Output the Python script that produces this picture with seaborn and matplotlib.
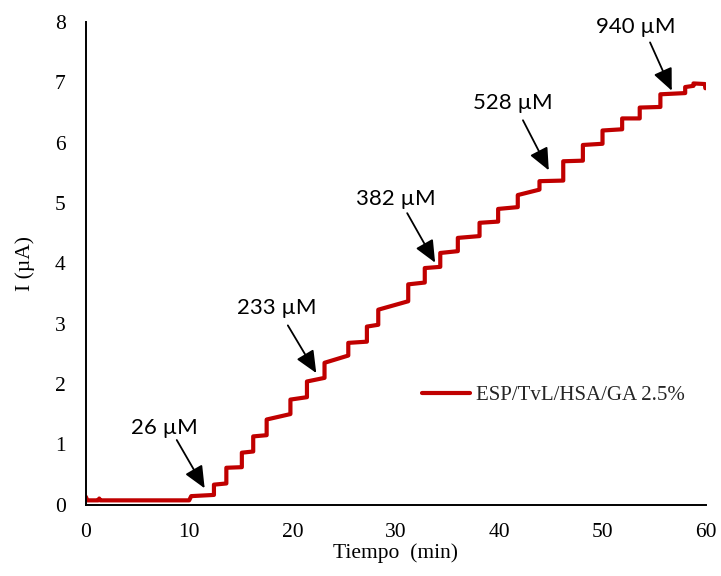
import numpy as np
import pandas as pd
import matplotlib
matplotlib.use("Agg")
import matplotlib.pyplot as plt
import seaborn as sns

# ---- data ----
base_time = [0.0, 0.15, 1.2, 1.3, 1.4, 10.0]
base_current = [0.13, 0.07, 0.07, 0.10, 0.07, 0.07]

step_edges = [10.2, 12.4, 13.6, 15.1, 16.2, 17.5, 19.8, 21.4, 23.1, 25.4,
              27.2, 28.3, 31.2, 32.8, 34.3, 36.0, 38.1, 39.9, 41.8, 43.9,
              46.2, 48.1, 50.0, 51.9, 53.6, 55.6, 58.0, 58.8, 59.9]
level_start = [0.14, 0.33, 0.61, 0.86, 1.13, 1.41, 1.74, 2.04, 2.35, 2.68,
               2.95, 3.23, 3.65, 3.92, 4.17, 4.42, 4.67, 4.90, 5.13, 5.36,
               5.69, 5.96, 6.20, 6.40, 6.58, 6.80, 6.92, 6.98]
level_end = [0.16, 0.35, 0.62, 0.88, 1.15, 1.50, 1.78, 2.10, 2.47, 2.70,
             2.98, 3.37, 3.68, 3.94, 4.20, 4.45, 4.69, 4.93, 5.22, 5.37,
             5.70, 5.98, 6.22, 6.40, 6.59, 6.82, 6.94, 6.97]
end_time = [59.95]
end_current = [6.90]

labels = ["26 µM", "233 µM", "382 µM", "528 µM", "940 µM"]
label_pos = [(7.65, 1.27), (18.5, 3.25), (30.0, 5.07), (41.3, 6.65), (53.2, 7.92)]
arrow_tail = [(8.8, 1.07), (19.55, 2.97), (31.1, 4.83), (42.3, 6.37), (54.6, 7.66)]
arrow_tip = [(11.5, 0.27), (22.3, 2.18), (33.8, 4.01), (44.8, 5.54), (56.7, 6.86)]

series_name = "ESP/TvL/HSA/GA 2.5%"

# ---- build line vertices ----
t = list(base_time)
i_vals = list(base_current)
for k in range(len(level_start)):
    t += [step_edges[k], step_edges[k + 1]]
    i_vals += [level_start[k], level_end[k]]
t += end_time
i_vals += end_current
df = pd.DataFrame({"Tiempo": t, "I": i_vals, "serie": series_name})

sns.set_theme(style="white")
plt.rcParams["font.family"] = ["Liberation Serif", "DejaVu Serif"]

fig = plt.figure(figsize=(7.21, 5.76), dpi=100)
ax = fig.add_axes([0.119, 0.124, 0.860, 0.838])

sns.lineplot(data=df, x="Tiempo", y="I", hue="serie", palette=["#C00000"],
             sort=False, estimator=None, linewidth=3.0, ax=ax)

ax.set_xlim(0, 60)
ax.set_ylim(0, 8)
ax.set_xticks(range(0, 61, 10))
ax.set_yticks(range(0, 9, 1))
ax.set_xticks(np.arange(5, 60, 10), minor=True)
ax.set_yticks(np.arange(0.5, 8, 1), minor=True)
ax.tick_params(which="both", direction="inout", length=9, width=1.2,
               color="black", labelsize=15.5, labelcolor="black")
ax.tick_params(axis="x", which="major", pad=9)
ax.tick_params(axis="y", which="major", pad=10)
for s in ["top", "right"]:
    ax.spines[s].set_visible(False)
for s in ["left", "bottom"]:
    ax.spines[s].set_color("black")
    ax.spines[s].set_linewidth(1.4)

ax.set_xlabel("Tiempo  (min)", fontsize=15.5, color="black", labelpad=1)
ax.set_ylabel("I (µA)", fontsize=15.5, color="black", labelpad=14)

for lab, lp, tl, tp in zip(labels, label_pos, arrow_tail, arrow_tip):
    ax.annotate("", xy=tp, xytext=tl,
                arrowprops=dict(arrowstyle="-|>,head_length=0.9,head_width=0.4",
                                color="black", lw=1.3, mutation_scale=15,
                                shrinkA=0, shrinkB=0))
    ax.text(lp[0], lp[1], lab, ha="center", va="center", fontsize=16,
            family=["Lato", "DejaVu Sans"], color="black")

leg = ax.legend(loc="center left", bbox_to_anchor=(0.542, 0.227), frameon=False,
                fontsize=15, handlelength=2.3, handletextpad=0.3,
                borderpad=0, borderaxespad=0)
for line in leg.get_lines():
    line.set_linewidth(3.0)

fig.savefig("out.png", dpi=100)
